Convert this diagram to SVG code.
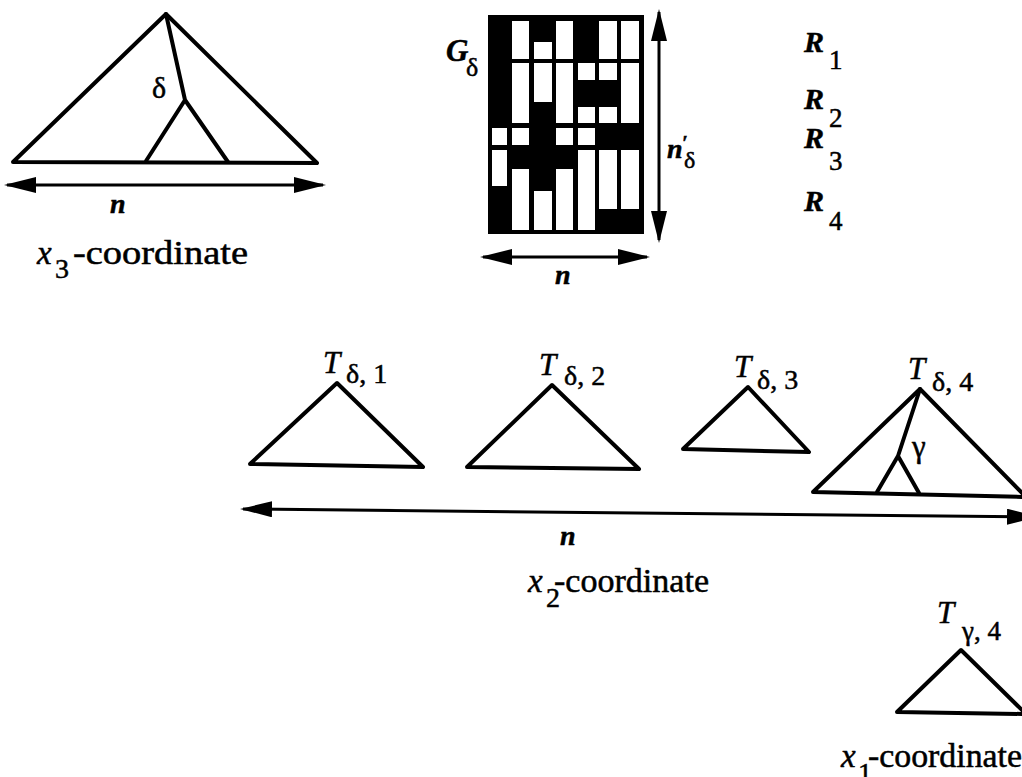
<svg xmlns="http://www.w3.org/2000/svg" width="1022" height="777" viewBox="0 0 1022 777">
<style>
.tri{fill:none;stroke:#000;stroke-width:4;stroke-linejoin:round;stroke-linecap:round}
.arr{fill:none;stroke:#000;stroke-width:3}
.t{font-family:"Liberation Serif","Times New Roman","DejaVu Serif",serif;fill:#000;stroke:#000;stroke-width:0.5}
.mi{font-style:italic;font-weight:bold}
.it{font-style:italic}
.w{fill:#fff}
</style>
<defs>
<marker id="ah" viewBox="0 0 32 16" markerUnits="userSpaceOnUse" markerWidth="32" markerHeight="16" refX="29" refY="8" orient="auto-start-reverse">
<path d="M0,0 L32,8 L0,16 Z" fill="#000"/>
</marker>
</defs>
<rect width="1022" height="777" fill="#fff"/>

<g id="tree-x3">
<path class="tri" d="M13,162 L166,14 L317,163 Z"/>
<path class="tri" d="M166,14 L185,100 M146,161 L185,100 L228,162"/>
<text class="t" x="152" y="98" font-size="30">δ</text>
<text class="t mi" x="110" y="213" font-size="28">n</text>
<text class="t it" x="37" y="264" font-size="33">x</text>
<text class="t" x="55" y="278" font-size="28">3</text>
<text class="t" x="73" y="264" font-size="33" textLength="175" lengthAdjust="spacingAndGlyphs">-coordinate</text>
</g>

<g id="grid-G">
<rect x="488" y="15" width="156" height="219" fill="#000"/>
<rect class="w" x="492" y="128" width="15" height="17"/>
<rect class="w" x="492" y="150" width="15" height="36"/>
<rect class="w" x="512" y="21" width="17" height="38"/>
<rect class="w" x="512" y="63" width="17" height="60"/>
<rect class="w" x="512" y="128" width="17" height="17"/>
<rect class="w" x="512" y="169" width="17" height="61"/>
<rect class="w" x="534" y="42" width="18" height="17"/>
<rect class="w" x="534" y="63" width="18" height="39"/>
<rect class="w" x="534" y="191" width="18" height="39"/>
<rect class="w" x="556" y="21" width="17" height="38"/>
<rect class="w" x="556" y="63" width="17" height="60"/>
<rect class="w" x="556" y="128" width="17" height="17"/>
<rect class="w" x="556" y="169" width="17" height="61"/>
<rect class="w" x="578" y="63" width="17" height="17"/>
<rect class="w" x="578" y="107" width="17" height="16"/>
<rect class="w" x="578" y="128" width="17" height="17"/>
<rect class="w" x="578" y="150" width="17" height="80"/>
<rect class="w" x="599" y="21" width="18" height="38"/>
<rect class="w" x="599" y="63" width="18" height="17"/>
<rect class="w" x="599" y="107" width="18" height="16"/>
<rect class="w" x="599" y="150" width="18" height="59"/>
<rect class="w" x="621" y="21" width="18" height="38"/>
<rect class="w" x="621" y="63" width="18" height="60"/>
<rect class="w" x="621" y="150" width="18" height="59"/>
<text class="t mi" x="446" y="61" font-size="31">G</text>
<text class="t" x="466" y="76" font-size="26">δ</text>
<text class="t mi" x="667" y="158" font-size="28">n</text>
<text class="t mi" x="682" y="150" font-size="20">′</text>
<text class="t" x="684" y="168" font-size="24">δ</text>
<text class="t mi" x="555" y="284" font-size="28">n</text>
</g>

<g id="rows">
<text class="t mi" x="804" y="52" font-size="30">R</text>
<text class="t" x="829" y="69" font-size="27">1</text>
<text class="t mi" x="804" y="109" font-size="30">R</text>
<text class="t" x="829" y="127" font-size="27">2</text>
<text class="t mi" x="804" y="148" font-size="30">R</text>
<text class="t" x="829" y="170" font-size="27">3</text>
<text class="t mi" x="804" y="211" font-size="30">R</text>
<text class="t" x="829" y="230" font-size="27">4</text>
</g>

<g id="tree-d1">
<path class="tri" d="M250,464 L337,383 L423,467 Z"/>
<text class="t it" x="323" y="373" font-size="31">T</text>
<text class="t" x="346" y="383" font-size="28">δ, 1</text>
</g>
<g id="tree-d2">
<path class="tri" d="M467,467 L552,385 L639,469 Z"/>
<text class="t it" x="539" y="375" font-size="31">T</text>
<text class="t" x="564" y="385" font-size="28">δ, 2</text>
</g>
<g id="tree-d3">
<path class="tri" d="M683,449 L748,387 L809,452 Z"/>
<text class="t it" x="734" y="377" font-size="31">T</text>
<text class="t" x="757" y="389" font-size="28">δ, 3</text>
</g>
<g id="tree-d4">
<path class="tri" d="M813,492 L920,389 L1026,497 L813,492 Z"/>
<path class="tri" d="M920,389 L898,456 M877,492 L898,456 L919,493"/>
<text class="t" x="912" y="457" font-size="31">γ</text>
<text class="t it" x="908" y="379" font-size="31">T</text>
<text class="t" x="932" y="391" font-size="28">δ, 4</text>
</g>
<g id="axis-x2">
<text class="t mi" x="560" y="545" font-size="28">n</text>
<text class="t it" x="528" y="592" font-size="33">x</text>
<text class="t" x="546" y="607" font-size="28">2</text>
<text class="t" x="554" y="592" font-size="33" textLength="155" lengthAdjust="spacingAndGlyphs">-coordinate</text>
</g>

<g id="tree-g4">
<path class="tri" d="M897,712 L961,650 L1026,714 L897,712 Z"/>
<text class="t it" x="937" y="623" font-size="31">T</text>
<text class="t" x="962" y="640" font-size="27">γ, 4</text>
<text class="t it" x="841" y="767" font-size="33">x</text>
<text class="t" x="858" y="782" font-size="28">1</text>
<text class="t" x="868" y="767" font-size="33" textLength="154" lengthAdjust="spacingAndGlyphs">-coordinate</text>
</g>

<g id="connectors">
<line class="arr" x1="7" y1="185" x2="323" y2="185" marker-start="url(#ah)" marker-end="url(#ah)"/>
<line class="arr" x1="659" y1="12" x2="659" y2="240" marker-start="url(#ah)" marker-end="url(#ah)"/>
<line class="arr" x1="483" y1="257" x2="647" y2="257" marker-start="url(#ah)" marker-end="url(#ah)"/>
<line class="arr" x1="243" y1="509" x2="1036" y2="517" marker-start="url(#ah)" marker-end="url(#ah)"/>
</g>
</svg>
